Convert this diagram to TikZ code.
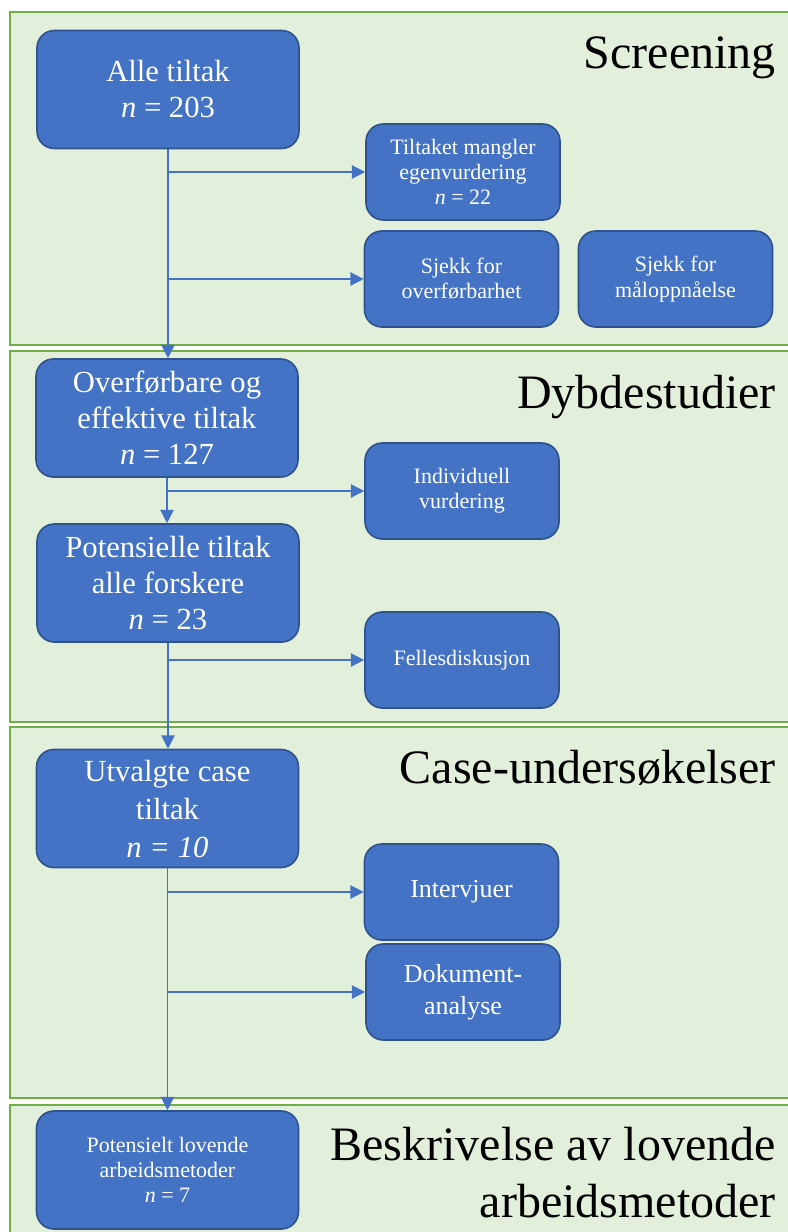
\documentclass[tikz,border=0pt]{standalone}
\usepackage{fontspec}
\setmainfont{Liberation Serif}
\usetikzlibrary{arrows.meta}
\definecolor{panelfill}{HTML}{E2EFDA}
\definecolor{paneldraw}{HTML}{70AD47}
\definecolor{boxfill}{HTML}{4472C4}
\definecolor{boxdraw}{HTML}{2F528F}
\tikzset{
    panel/.style = {fill = panelfill, draw = paneldraw, line width = 1.5pt},
    box/.style = {draw = boxdraw, fill = boxfill, line width = 1.2pt, rounded corners = 13pt, text = white, align = center, inner sep = 0pt},
    bigbox/.style = {box, minimum width = 196.5pt, minimum height = 88.5pt, font = \fontsize{23}{27}\selectfont},
    smallbox/.style = {box, minimum width = 145.5pt, minimum height = 72pt, font = \fontsize{16.5}{19}\selectfont},
    midbox/.style = {smallbox, font = \fontsize{19.5}{24}\selectfont},
    flow/.style = {draw = boxfill, line width = 1pt, -{Triangle[length = 10pt, width = 10pt]}},
    heading/.style = {anchor = base east, align = right, inner sep = 0pt, font = \fontsize{36}{42.75}\selectfont}
}
\begin{document}
\begin{tikzpicture}[x = 0.75pt, y = -0.75pt]
            \useasboundingbox (0,0) rectangle (788,1232);
            \clip (0,0) rectangle (788,1232);
            \draw[panel] (10,12) rectangle (800,345);
            \draw[panel] (10,351) rectangle (800,722);
            \draw[panel] (10,727) rectangle (800,1098);
            \draw[panel] (10,1105) rectangle (800,1250);
            \node[heading] (screening) at (776,68) {Screening};
            \node[heading] (dybde) at (776,408) {Dybdestudier};
            \node[heading] (case) at (776,783) {Case-undersøkelser};
            \node[heading] (beskrivelse) at (776,1217) {Beskrivelse av lovende\\arbeidsmetoder};
            \node[bigbox] (alle) at (168,89.5) {Alle tiltak\\\textit{n} = 203};
            \node[smallbox] (tiltaket) at (463,172) {Tiltaket mangler\\egenvurdering\\\textit{n} = 22};
            \node[smallbox] (overf) at (461.5,279) {Sjekk for\\overførbarhet};
            \node[smallbox] (malopp) at (675.5,279) {Sjekk for\\måloppnåelse};
            \node[bigbox] (effektive) at (167,418) {Overførbare og\\effektive tiltak\\\textit{n} = 127};
            \node[smallbox] (individuell) at (462,491) {Individuell\\vurdering};
            \node[bigbox] (potensielle) at (168,583) {Potensielle tiltak\\alle forskere\\\textit{n} = 23};
            \node[smallbox] (felles) at (462,660) {Fellesdiskusjon};
            \node[bigbox, font = \fontsize{23}{28.5}\selectfont] (utvalgte) at (167.5,808.5) {Utvalgte case\\tiltak\\\textit{n = 10}};
            \node[midbox] (intervjuer) at (461.5,892) {Intervjuer};
            \node[midbox] (dokument) at (463,992) {Dokument-\\analyse};
            \node[bigbox, font = \fontsize{16.5}{19}\selectfont] (lovende) at (167.5,1170) {Potensielt lovende\\arbeidsmetoder\\\textit{n} = 7};
            \draw[flow] (alle.south) -- (alle.south |- effektive.north);
            \draw[flow] (alle.south |- tiltaket.west) -- (tiltaket.west);
            \draw[flow] (alle.south |- overf.west) -- (overf.west);
            \draw[flow] (effektive.south) -- (effektive.south |- potensielle.north);
            \draw[flow] (effektive.south |- individuell.west) -- (individuell.west);
            \draw[flow] (potensielle.south) -- (potensielle.south |- utvalgte.north);
            \draw[flow] (potensielle.south |- felles.west) -- (felles.west);
            \draw[flow] (utvalgte.south) -- (utvalgte.south |- lovende.north);
            \draw[flow] (utvalgte.south |- intervjuer.west) -- (intervjuer.west);
            \draw[flow] (utvalgte.south |- dokument.west) -- (dokument.west);
        \end{tikzpicture}
\end{document}
